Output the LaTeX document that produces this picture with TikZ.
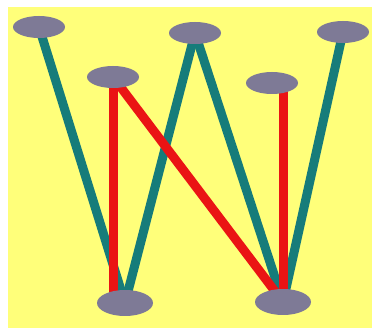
\documentclass[tikz,border=0pt]{standalone}
\usetikzlibrary{shapes.geometric}
\pgfdeclarelayer{back}
\pgfdeclarelayer{edges}
\pgfsetlayers{back,edges,main}
\definecolor{paper}{RGB}{255,255,122}
\definecolor{blobgray}{RGB}{126,122,150}
\definecolor{tealline}{RGB}{22,124,122}
\definecolor{redline}{RGB}{234,20,20}

\begin{document}
\begin{tikzpicture}[
    x=1pt,y=-1pt,
    blob/.style={ellipse,fill=blobgray,draw=none,inner sep=0pt,
                 minimum width=52pt,minimum height=22pt},
    bigblob/.style={blob,minimum width=56pt,minimum height=26pt},
    tealedge/.style={draw=tealline,line width=9pt},
    rededge/.style={draw=redline,line width=9pt},
  ]
  \useasboundingbox (0,0) rectangle (372,328);

  % ---------------------------------------------------------------- nodes
  \node[blob] (t1) at (39,27)  {};
  \node[blob] (t2) at (195,33) {};
  \node[blob] (t3) at (343,32) {};
  \node[blob] (l2) at (113,77) {};
  \node[blob] (r2) at (272,83) {};
  \node[bigblob] (b1) at (125,303) {};
  \node[bigblob] (b2) at (283,302) {};

  % ---------------------------------------------------------------- paper
  \begin{pgfonlayer}{back}
    \fill[paper] (8,7) rectangle (372,328);
  \end{pgfonlayer}

  % ---------------------------------------------------------------- edges
  \begin{pgfonlayer}{edges}
    \foreach \a/\b in {t1/b1, t2/b1, t2/b2, t3/b2}
      \draw[tealedge] (\a.center) -- (\b.center);
    \draw[rededge] (l2.center) -- (l2.center |- b1.center);
    \draw[rededge] (l2.center) -- (b2.center);
    \draw[rededge] (b2.center) -- (b2.center |- r2.center);
  \end{pgfonlayer}
\end{tikzpicture}
\end{document}
